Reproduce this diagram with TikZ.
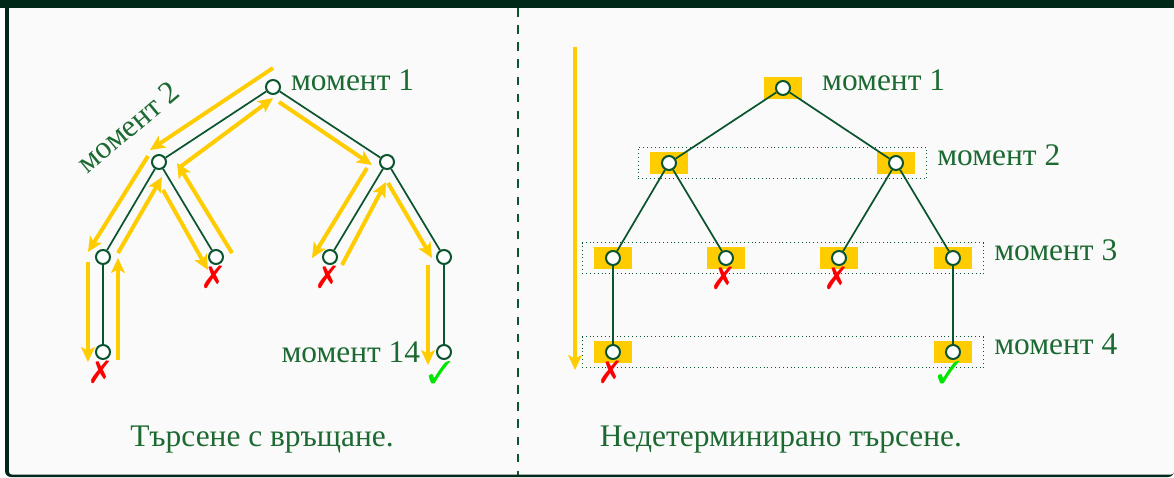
\documentclass[tikz,border=0pt]{standalone}
\usepackage{fontspec}
\setmainfont{Liberation Serif}
\usepackage{pifont}
\usetikzlibrary{arrows.meta,fit}

\definecolor{framecol}{RGB}{0,40,24}
\definecolor{paper}{RGB}{250,250,250}
\definecolor{leaf}{RGB}{10,84,46}
\definecolor{ink}{RGB}{28,106,50}
\definecolor{gold}{RGB}{255,204,0}
\definecolor{nogo}{RGB}{255,0,0}
\definecolor{okgo}{RGB}{0,230,0}

\tikzset{
  knot/.style={circle,draw=leaf,fill=white,line width=0.7pt,inner sep=0pt,minimum size=4.9pt},
  branch/.style={draw=leaf,line width=0.6pt},
  trail/.style={gold,line width=1.4pt,-{Stealth[length=5.2pt,width=4.8pt,inset=1.2pt]}},
  slot/.style={fill=gold,inner sep=0pt,minimum width=13.3pt,minimum height=8pt},
  stage/.style={draw=leaf,densely dotted,line width=0.35pt,inner xsep=3.9pt,inner ysep=1.2pt},
  moment/.style={text=ink,font=\fontsize{11}{13}\selectfont},
  nope/.style={label={[text=nogo,font=\fontsize{11}{11}\selectfont,label distance=-3.2pt,xshift=-1pt]below:\ding{55}}},
  yes/.style={label={[text=okgo,font=\fontsize{11}{11}\selectfont,label distance=-3.2pt,xshift=-1.5pt]below:\ding{51}}},
}

\begin{document}
\begin{tikzpicture}[x=0.35pt,y=-0.35pt]
    \useasboundingbox (0,0) rectangle (1174,477);
    % frame
    \fill[framecol] (0,0) rectangle (1174,8);
    \fill[framecol] (5,8) [rounded corners=2.1pt] -- (5,477) -- (1174,477) [sharp corners] -- (1174,8) -- cycle;
    \fill[paper] (9,8) [rounded corners=1pt] -- (9,474.5) -- (1174,474.5) [sharp corners] -- (1174,8) -- cycle;
    \draw[leaf,dashed,line width=0.4pt] (518,8) -- (518,474.5);

    % backtracking tree
    \node[knot] (a) at (273,87) {};
    \node[knot] (b) at (159,162) {};
    \node[knot] (c) at (387,162) {};
    \node[knot] (d) at (103,257) {};
    \node[knot,nope] (e) at (216,257) {};
    \node[knot,nope] (f) at (330,257) {};
    \node[knot] (g) at (444,257) {};
    \node[knot,nope] (h) at (103,352) {};
    \node[knot,yes] (i) at (444,352) {};
    \draw[branch] (a) -- (b) (a) -- (c) (b) -- (d) (b) -- (e) (c) -- (f) (c) -- (g) (d) -- (h) (g) -- (i);

    \draw[trail] ([shift={(0,-19)}]a.center) -- ([shift={(-9,-12)}]b.center);
    \draw[trail] ([shift={(-11,-6)}]b.center) -- ([shift={(-15,-5)}]d.center);
    \draw[trail] ([shift={(-15,5)}]d.center) -- ([shift={(-15,10)}]h.center);
    \draw[trail] ([shift={(15,8)}]h.center) -- ([shift={(15,1)}]d.center);
    \draw[trail] ([shift={(15,-4)}]d.center) -- ([shift={(3,15)}]b.center);
    \draw[trail] ([shift={(4,28)}]b.center) -- ([shift={(-8,13)}]e.center);
    \draw[trail] ([shift={(16,-4)}]e.center) -- ([shift={(18,1)}]b.center);
    \draw[trail] ([shift={(21,5)}]b.center) -- ([shift={(0,11)}]a.center);
    \draw[trail] ([shift={(6,15)}]a.center) -- ([shift={(-15,3)}]c.center);
    \draw[trail] ([shift={(-20,6)}]c.center) -- ([shift={(-18,1)}]f.center);
    \draw[trail] ([shift={(12,8)}]f.center) -- ([shift={(-1,20)}]c.center);
    \draw[trail] ([shift={(1,21)}]c.center) -- ([shift={(-12,1)}]g.center);
    \draw[trail] ([shift={(-16,8)}]g.center) -- ([shift={(-16,13)}]i.center);

    \node[moment,right,yshift=2.4pt] (la) at (a.east) {момент 1};
    \node[moment,rotate=40] (lb) at (128,127) {момент 2};
    \node[moment,left,xshift=-2pt] (li) at (i.west) {момент 14};
    \node[moment] (cap1) at (262,440) {Търсене с връщане.};

    % nondeterministic tree
    \coordinate (down1) at (575,47);
    \coordinate (down2) at (575,370);
    \draw[trail,line width=1.7pt] (down1) -- (down2);

    \node[slot] (z1) at (783,88) {};
    \node[slot] (z2) at (669,163) {};
    \node[slot] (z3) at (896,163) {};
    \node[slot] (z4) at (613,258) {};
    \node[slot] (z5) at (726,258) {};
    \node[slot] (z6) at (839,258) {};
    \node[slot] (z7) at (953,258) {};
    \node[slot] (z8) at (613,352) {};
    \node[slot] (z9) at (953,352) {};
    \node[stage,fit=(z2)(z3)] (s2) {};
    \node[stage,fit=(z4)(z7)] (s3) {};
    \node[stage,fit=(z8)(z9)] (s4) {};

    \node[knot] (n1) at (z1) {};
    \node[knot] (n2) at (z2) {};
    \node[knot] (n3) at (z3) {};
    \node[knot] (n4) at (z4) {};
    \node[knot,nope] (n5) at (z5) {};
    \node[knot,nope] (n6) at (z6) {};
    \node[knot] (n7) at (z7) {};
    \node[knot,nope] (n8) at (z8) {};
    \node[knot,yes] (n9) at (z9) {};
    \draw[branch] (n1) -- (n2) (n1) -- (n3) (n2) -- (n4) (n2) -- (n5) (n3) -- (n6) (n3) -- (n7) (n4) -- (n8) (n7) -- (n9);

    \node[moment,right,xshift=3.3pt,yshift=2.6pt] (t1) at (z1.east) {момент 1};
    \node[moment,right,yshift=2.6pt] (t2) at (s2.east) {момент 2};
    \node[moment,right,yshift=2.6pt] (t3) at (s3.east) {момент 3};
    \node[moment,right,yshift=2.6pt] (t4) at (s4.east) {момент 4};
    \node[moment] (cap2) at (781,440) {Недетерминирано търсене.};
\end{tikzpicture}
\end{document}
